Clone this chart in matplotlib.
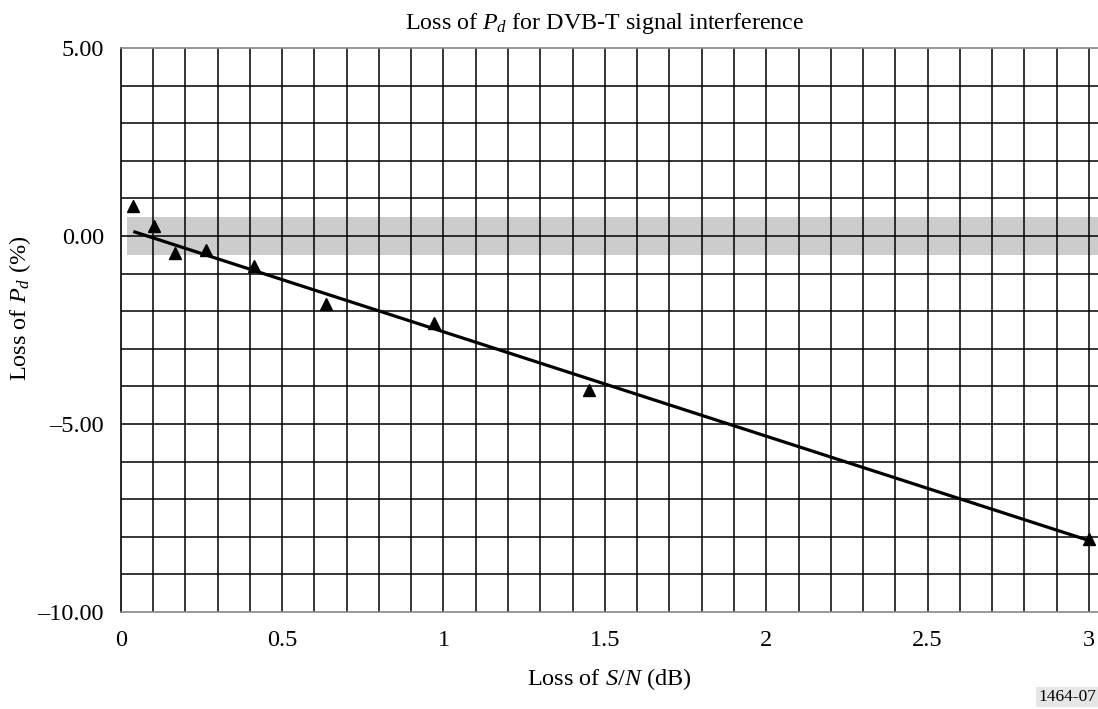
import matplotlib
matplotlib.use("Agg")
import matplotlib.pyplot as plt
import numpy as np

plt.rcParams['font.family'] = ['Liberation Serif', 'DejaVu Serif']
plt.rcParams['mathtext.fontset'] = 'custom'
plt.rcParams['mathtext.rm'] = 'Liberation Serif'
plt.rcParams['mathtext.it'] = 'Liberation Serif:italic'

# Data
snr_loss = [0.039, 0.104, 0.168, 0.263, 0.413, 0.637, 0.972, 1.452, 3.0]
pd_loss = [0.80, 0.27, -0.46, -0.37, -0.81, -1.82, -2.32, -4.10, -8.07]
trend_x = [0.039, 3.0]
trend_y = [0.12, -8.10]
band_lo, band_hi, band_x0 = -0.5, 0.5, 0.02

x_ticks = [0, 0.5, 1, 1.5, 2, 2.5, 3]
x_ticklabels = ['0', '0.5', '1', '1.5', '2', '2.5', '3']
y_ticks = [5, 0, -5, -10]
y_ticklabels = ['5.00', '0.00', '\u20135.00', '\u201310.00']

W, H = 1098, 709
fig = plt.figure(figsize=(W / 100, H / 100), dpi=100)
left, right, top, bottom = 120.7, 1098, 48, 612
ax = fig.add_axes([left / W, 1 - bottom / H, (right - left) / W, (bottom - top) / H])

xmax = 3 + (right - 1089) / ((1089 - left) / 3)
ax.set_xlim(0, xmax)
ax.set_ylim(-10, 5)

# grid
for gx in np.arange(1, 31) / 10:
    ax.axvline(gx, color='black', lw=1.1, zorder=1)
for gy in range(-9, 5):
    ax.axhline(gy, color='black', lw=1.1, zorder=1)

ax.axhspan(band_lo, band_hi, xmin=band_x0 / xmax, xmax=1, color='#cccccc', zorder=0.5, lw=0)

ax.plot(trend_x, trend_y, color='black', lw=2.3, zorder=3, solid_capstyle='butt')
ax.plot(snr_loss, pd_loss, linestyle='none', marker='^', color='black', ms=9, zorder=4, clip_on=False)

fs = 17.5
ax.set_xticks(x_ticks)
ax.set_xticklabels(x_ticklabels, fontsize=fs)
ax.set_yticks(y_ticks)
ax.set_yticklabels(y_ticklabels, fontsize=fs)
ax.tick_params(axis='y', length=0, pad=12)
ax.tick_params(axis='x', length=0, pad=13)

ax.spines['right'].set_visible(False)
ax.spines['top'].set_color('#888888')
ax.spines['bottom'].set_color('#888888')
ax.spines['left'].set_color('black')
for s in ['top', 'bottom', 'left']:
    ax.spines[s].set_linewidth(1.2)

ax.set_title(r'Loss of $P_d$ for DVB-T signal interference', fontsize=17.3, pad=14,
             x=(605 - left) / (right - left))
ax.set_xlabel(r'Loss of $S$/$N$ (dB)', fontsize=fs, labelpad=11)
ax.set_ylabel(r'Loss of $P_d$ (%)', fontsize=fs)
ax.yaxis.set_label_coords((33 - left) / (right - left), (bottom - 308) / (bottom - top))

fig.text(1038 / W, 1 - 697 / H, '1464-07', fontsize=12.5, ha='left', va='center',
         bbox=dict(facecolor='#e6e6e6', edgecolor='none', pad=1.5))

fig.savefig('out.png', dpi=100)
